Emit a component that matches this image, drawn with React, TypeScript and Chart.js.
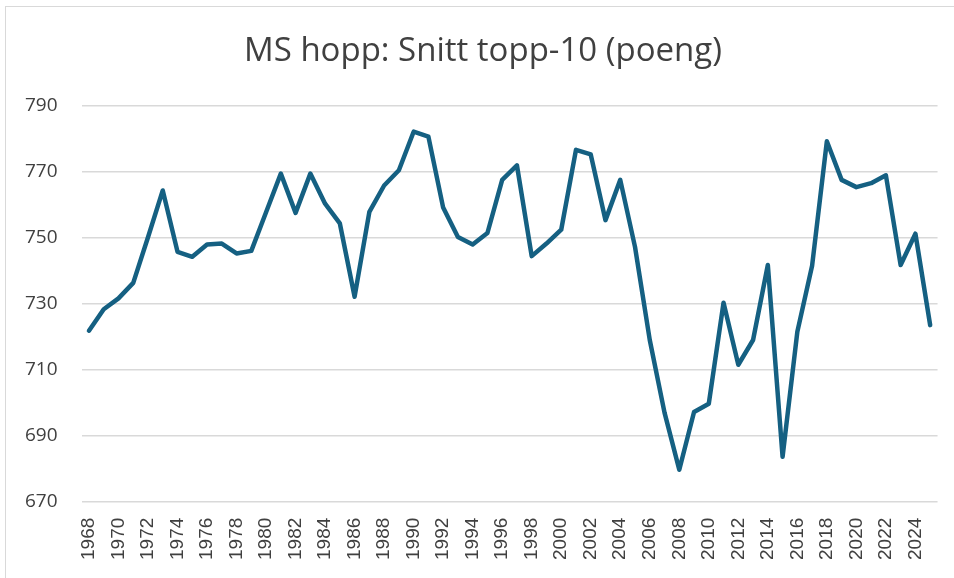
import React, { useEffect, useRef } from "react";
import { Chart, registerables } from "chart.js";

Chart.register(...registerables);

const years: string[] = [];
for (let y = 1968; y <= 2025; y++) years.push(String(y));

const averages: number[] = [
  721.8, 728.3, 731.6, 736.3, 750.1, 764.3, 745.7, 744.2, 747.9, 748.2,
  745.2, 746.0, 757.7, 769.4, 757.5, 769.4, 760.3, 754.3, 732.1, 757.8,
  765.8, 770.4, 782.1, 780.6, 759.1, 750.2, 747.9, 751.4, 767.5, 771.9,
  744.4, 748.2, 752.4, 776.6, 775.2, 755.3, 767.5, 747.2, 719.0, 697.0,
  679.7, 697.2, 699.7, 730.3, 711.5, 719.0, 741.7, 683.6, 721.5, 741.5,
  779.2, 767.5, 765.3, 766.5, 768.9, 741.7, 751.2, 723.5,
];

const titleText = "MS hopp: Snitt topp-10 (poeng)";
const yMin = 670;
const yMax = 790;
const yStep = 20;

export default function App() {
  const ref = useRef<HTMLCanvasElement | null>(null);
  useEffect(() => {
    if (!ref.current) return;
    const chart = new Chart(ref.current, {
      type: "line",
      data: {
        labels: years,
        datasets: [
          {
            data: averages,
            borderColor: "#156082",
            backgroundColor: "#156082",
            borderWidth: 4.5,
            pointRadius: 0,
            tension: 0,
            borderJoinStyle: "round",
            borderCapStyle: "round",
          },
        ],
      },
      options: {
        animation: false,
        responsive: false,
        maintainAspectRatio: false,
        layout: { padding: { left: 1, right: 4, top: 0, bottom: 2 } },
        plugins: {
          legend: { display: false },
          tooltip: { enabled: false },
          title: {
            display: true,
            text: titleText,
            color: "#404040",
            font: { family: "'Open Sans'", size: 33, weight: "normal" },
            padding: { top: 32, bottom: 34 },
          },
        },
        scales: {
          x: {
            type: "category",
            offset: true,
            grid: { display: false, drawTicks: false },
            border: { display: false },
            ticks: {
              autoSkip: false,
              maxRotation: 90,
              minRotation: 90,
              padding: 16,
              color: "#404040",
              font: { family: "'Liberation Sans'", size: 19 },
              callback: (_v: any, i: number) => (i % 2 === 0 ? years[i] : ""),
            },
          },
          y: {
            min: yMin,
            max: yMax,
            grid: { color: "#d9d9d9", lineWidth: 1.5, drawTicks: false },
            border: { display: false },
            ticks: {
              stepSize: yStep,
              padding: 24,
              color: "#404040",
              font: { family: "'Open Sans'", size: 19 },
            },
          },
        },
      },
    });
    return () => chart.destroy();
  }, []);

  return (
    <div
      style={{
        position: "fixed",
        left: 0,
        top: 0,
        width: 954,
        height: 578,
        overflow: "hidden",
        background: "#fff",
      }}
    >
      <div
        style={{
          position: "absolute",
          left: 5,
          top: 6,
          width: 1000,
          height: 700,
          border: "1px solid #d9d9d9",
        }}
      />
      <canvas
        ref={ref}
        width={969}
        height={578}
        style={{ position: "absolute", left: 0, top: 0 }}
      />
    </div>
  );
}
